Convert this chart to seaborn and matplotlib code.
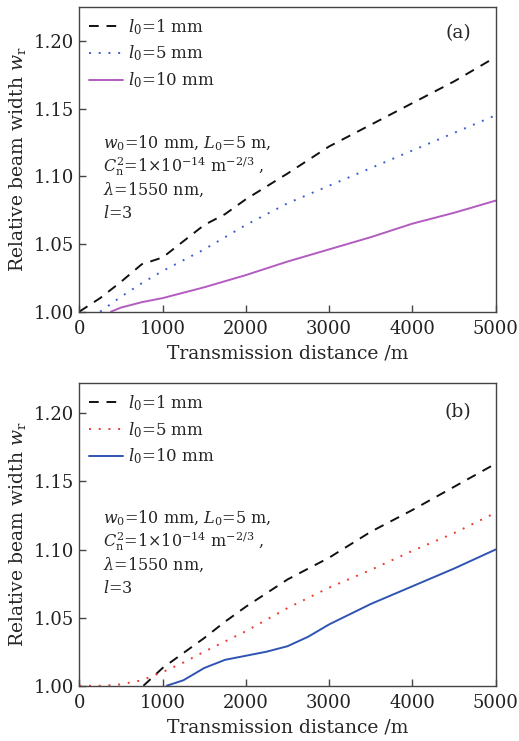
import numpy as np
import pandas as pd
import seaborn as sns
import matplotlib
matplotlib.use("Agg")
import matplotlib.pyplot as plt

# ---- data: relative beam width vs transmission distance ----
# panel (a)
a_l1_x = [0, 250, 500, 750, 1000, 1250, 1500, 1750, 2000, 2500, 3000, 3500, 4000, 4500, 5000]
a_l1_y = [1.000, 1.010, 1.022, 1.035, 1.040, 1.052, 1.064, 1.072, 1.083, 1.102, 1.122, 1.138, 1.154, 1.170, 1.188]
a_l5_x = [250, 500, 750, 1000, 1500, 2000, 2500, 3000, 3500, 4000, 4500, 5000]
a_l5_y = [1.000, 1.011, 1.021, 1.030, 1.046, 1.064, 1.080, 1.093, 1.106, 1.119, 1.132, 1.145]
a_l10_x = [380, 500, 750, 1000, 1250, 1500, 2000, 2500, 3000, 3500, 4000, 4500, 5000]
a_l10_y = [1.000, 1.003, 1.007, 1.010, 1.014, 1.018, 1.027, 1.037, 1.046, 1.055, 1.065, 1.073, 1.082]

# panel (b)
b_l1_x = [770, 1000, 1250, 1500, 1750, 2000, 2500, 3000, 3500, 4000, 4500, 5000]
b_l1_y = [1.000, 1.013, 1.024, 1.035, 1.047, 1.058, 1.078, 1.094, 1.113, 1.129, 1.146, 1.163]
b_l5_x = [0, 300, 500, 750, 1000, 1250, 1500, 2000, 2500, 3000, 3500, 4000, 4500, 5000]
b_l5_y = [1.000, 1.000, 1.001, 1.004, 1.010, 1.017, 1.025, 1.040, 1.057, 1.072, 1.085, 1.099, 1.112, 1.127]
b_l10_x = [1050, 1250, 1500, 1750, 2000, 2250, 2500, 2750, 3000, 3500, 4000, 4500, 5000]
b_l10_y = [1.000, 1.004, 1.013, 1.019, 1.022, 1.025, 1.029, 1.036, 1.045, 1.060, 1.073, 1.086, 1.100]

labels = [r"$l_0$=1 mm", r"$l_0$=5 mm", r"$l_0$=10 mm"]
x_ticks = [0, 1000, 2000, 3000, 4000, 5000]
y_ticks = [1.00, 1.05, 1.10, 1.15, 1.20]
params_lines = [r"$w_0$=10 mm, $L_0$=5 m,",
                r"$C_{\rm n}^2$=1$\times$10$^{-14}$ m$^{-2/3}$ ,",
                r"$\lambda$=1550 nm,",
                r"$l$=3"]

sns.set_theme(style="ticks")
plt.rcParams["font.family"] = ["DejaVu Serif"]
plt.rcParams["mathtext.fontset"] = "dejavuserif"
plt.rcParams["axes.edgecolor"] = "#444444"
plt.rcParams["xtick.color"] = "#444444"
plt.rcParams["ytick.color"] = "#444444"
plt.rcParams["xtick.labelcolor"] = "#222222"
plt.rcParams["ytick.labelcolor"] = "#222222"

fig = plt.figure(figsize=(5.19, 7.41), dpi=100)
ax_a = fig.add_axes([0.1528, 0.5794, 0.8022, 0.4112])
ax_b = fig.add_axes([0.1528, 0.0746, 0.8022, 0.4081])

dash = (0, (5, 4))
dot = (0, (1, 4))

panels = [
    (ax_a, "(a)", 1.225, 0.915,
     [(a_l1_x, a_l1_y, "#111111", dash), (a_l5_x, a_l5_y, "#3f5fd0", dot),
      (a_l10_x, a_l10_y, "#b25cc0", "-")]),
    (ax_b, "(b)", 1.222, 0.906,
     [(b_l1_x, b_l1_y, "#111111", dash), (b_l5_x, b_l5_y, "#ee3a30", dot),
      (b_l10_x, b_l10_y, "#2f54b4", "-")]),
]

for ax, tag, ytop, tag_y, series in panels:
    for (xs, ys, col, ls), lab in zip(series, labels):
        df = pd.DataFrame({"distance": xs, "width": ys})
        sns.lineplot(data=df, x="distance", y="width", ax=ax, color=col,
                     linestyle=ls, linewidth=1.4, label=lab)
    ax.set_xlim(0, 5000)
    ax.set_ylim(1.0, ytop)
    ax.set_xticks(x_ticks)
    ax.set_yticks(y_ticks)
    ax.set_yticklabels([f"{v:.2f}" for v in y_ticks])
    ax.tick_params(direction="in", length=5, width=1, labelsize=13)
    ax.tick_params(axis="x", pad=6)
    ax.tick_params(axis="y", pad=4)
    ax.set_xlabel("Transmission distance /m", fontsize=13.5, labelpad=5)
    ax.set_ylabel(r"Relative beam width $w_{\rm r}$", fontsize=13.5, labelpad=4)
    for sp in ax.spines.values():
        sp.set_linewidth(1.0)
    ax.legend(loc="upper left", frameon=False, fontsize=12,
              handlelength=2.0, handletextpad=0.35, labelspacing=0.42,
              borderaxespad=0.2, bbox_to_anchor=(0.0, 1.0))
    ax.text(0.942, tag_y, tag, transform=ax.transAxes, ha="right", va="center",
            fontsize=13.5)
    for line, yb in zip(params_lines, [0.537, 0.459, 0.383, 0.308]):
        ax.text(0.057, yb, line, transform=ax.transAxes, ha="left",
                va="baseline", fontsize=11.5)

fig.savefig("out.png", dpi=100)
